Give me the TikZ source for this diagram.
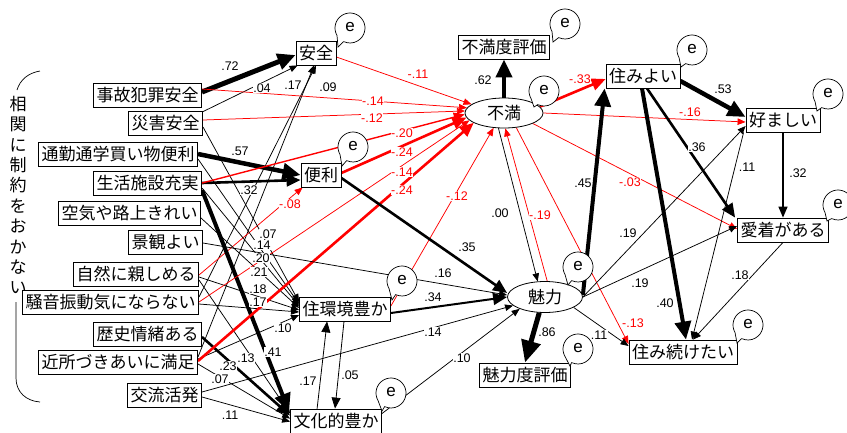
\documentclass[tikz,border=0pt]{standalone}
\usepackage{fontspec}
\setmainfont{Liberation Sans}
\newfontfamily\jpf{Noto Sans CJK JP}
\usetikzlibrary{arrows.meta,shapes.geometric,calc}
\pgfdeclarelayer{bg}
\pgfdeclarelayer{back}
\pgfsetlayers{back,bg,main}
\newcommand{\ebub}[5]{%
  \draw[line width=0.7pt,fill=white] (#2,#3) ++(150:15) arc[start angle=150,end angle=475,radius=15] -- (#4,#5) -- cycle;
  \node[efont] (#1) at (#2,#3-1) {e};}
\begin{document}
\begin{tikzpicture}[x=1pt,y=-1pt,
  box/.style={draw,line width=0.8pt,fill=white,font=\jpf\fontsize{17}{17}\selectfont,inner xsep=3pt,inner ysep=0pt,minimum height=24pt},
  ell/.style={ellipse,draw,line width=0.8pt,fill=white,inner sep=0pt,font=\jpf\fontsize{17}{17}\selectfont},
  efont/.style={font=\fontsize{17}{17}\selectfont,inner sep=0pt},
  lab/.style={font=\fontsize{12.5}{13}\selectfont,fill=white,inner sep=0.6pt},
  rlab/.style={lab,text=red},
  ln/.style={line width=0.75pt,-{Triangle[length=8pt,width=6.5pt]}},
  lnH/.style={line width=0.8pt,-{Triangle[length=11pt,width=9pt]}},
  lnM/.style={line width=1.4pt,-{Triangle[length=11pt,width=9pt]}},
  lnB/.style={line width=2.6pt,-{Triangle[length=14pt,width=12pt]}},
  lnT/.style={line width=4.5pt,-{Triangle[length=18pt,width=16pt]}},
  lnX/.style={line width=5pt,-{Triangle[length=22pt,width=19pt]}}
]
\useasboundingbox (0,0) rectangle (847,432);
\begin{pgfonlayer}{back}
\fill[white] (0,0) rectangle (847,432);
\end{pgfonlayer}

% bracket and vertical text
\node[font=\jpf\fontsize{17}{20.4}\selectfont,align=center,inner sep=0pt] (vt) at (18,195) {相\\関\\に\\制\\約\\を\\お\\か\\な\\い};
\draw[line width=0.7pt] (40,71) .. controls (28,73) and (20,80) .. (17,90);
\draw[line width=0.7pt] (16,302) -- (16,378) .. controls (16,392) and (26,401) .. (40,402);

% left nodes
\node[box,anchor=east] (A1) at (202,95) {事故犯罪安全};
\node[box,anchor=east] (A2) at (203,123) {災害安全};
\node[box,anchor=east] (A3) at (198,154) {通勤通学買い物便利};
\node[box,anchor=east] (A4) at (202,183) {生活施設充実};
\node[box,anchor=east] (A5) at (201,213) {空気や路上きれい};
\node[box,anchor=east] (A6) at (203,242) {景観よい};
\node[box,anchor=east] (A7) at (199,274) {自然に親しめる};
\node[box,anchor=east] (A8) at (199,302) {騒音振動気にならない};
\node[box,anchor=east] (A9) at (202,334) {歴史情緒ある};
\node[box,anchor=east] (A10) at (198,362) {近所づきあいに満足};
\node[box,anchor=east] (A11) at (202,395) {交流活発};

% middle nodes
\node[box] (anzen) at (316,53) {安全};
\node[box] (benri) at (321,175) {便利};
\node[box] (jukan) at (345,309) {住環境豊か};
\node[box] (bunka) at (336,421) {文化的豊か};
\node[ell,minimum width=78pt,minimum height=30pt] (fuman) at (504,113) {不満};
\node[box] (fumanhyoka) at (504,47) {不満度評価};
\node[ell,minimum width=75pt,minimum height=31pt] (miryoku) at (545,297) {魅力};
\node[box] (miryokuhyoka) at (525,375) {魅力度評価};
\node[box] (sumiyoi) at (643,76) {住みよい};
\node[box] (konomashii) at (783,120) {好ましい};
\node[box] (aichaku) at (783,230) {愛着がある};
\node[box] (sumitsuzuke) at (683,352) {住み続けたい};

\begin{pgfonlayer}{bg}
% to anzen
\draw[lnT,line width=5pt] ($(A1.east)+(0,-3)$) -- ($(anzen.west)+(0,2)$);
\draw[ln] ($(A2.north east)+(0,1)$) -- ($(anzen.south west)+(2,0)$);
\draw[ln] ($(A10.east)+(0,-5)$) -- ($(anzen.south)+(-2,0)$);
\draw[ln] ($(A8.east)+(0,-5)$) -- ($(anzen.south)+(0,0)$);
% to benri
\draw[lnT] ($(A3.east)+(0,0)$) -- ($(benri.west)+(0,0)$);
\draw[lnB] ($(A4.east)+(0,0)$) -- ($(benri.west)+(0,5)$);
\draw[ln,red] ($(A7.east)+(0,1)$) -- ($(benri.south west)+(2,0)$);
% to jukan
\draw[ln] ($(A2.east)+(0,4)$) -- ($(jukan.west)+(0,-7)$);
\draw[ln] ($(A3.east)+(0,5)$) -- ($(jukan.west)+(0,-5)$);
\draw[ln] ($(A4.east)+(0,5)$) -- ($(jukan.west)+(0,-3)$);
\draw[ln] ($(A5.east)+(0,5)$) -- ($(jukan.west)+(0,-1)$);
\draw[ln] ($(A7.east)+(0,3)$) -- ($(jukan.west)+(0,1)$);
\draw[ln] ($(A8.east)+(0,2)$) -- ($(jukan.west)+(0,3)$);
\draw[ln] ($(A10.east)+(0,-3)$) -- ($(jukan.west)+(0,6)$);
% to bunka
\draw[lnT,line width=4pt] ($(A4.east)+(0,7)$) -- ($(bunka.north west)+(-1,3)$);
\draw[ln] ($(A7.east)+(0,6)$) -- ($(bunka.north west)+(0,5)$);
\draw[lnB] ($(A9.east)+(0,3)$) -- ($(bunka.north west)+(0,7)$);
\draw[ln] ($(A10.east)+(0,2)$) -- ($(bunka.north west)+(0,10)$);
\draw[ln] ($(A11.east)+(0,2)$) -- ($(bunka.north west)+(0,13)$);
% jukan <-> bunka
\draw[lnH] ($(bunka.north west)+(27,0)$) -- ($(jukan.south west)+(28,0)$);
\draw[lnH] ($(jukan.south)+(-1,0)$) -- ($(bunka.north)+(-1,0)$);
% red to fuman
\draw[ln,red] ($(anzen.east)+(0,4)$) -- (fuman.165);
\draw[ln,red] ($(A1.east)+(0,-6)$) -- (fuman.172);
\draw[ln,red] ($(A2.east)+(0,-3)$) -- (fuman.177);
\draw[lnM,red] ($(A4.east)+(0,0)$) -- (fuman.182);
\draw[lnB,red] ($(benri.east)+(0,-2)$) -- (fuman.187);
\draw[ln,red] ($(A8.east)+(0,0)$) -- (fuman.192);
\draw[lnB,red] ($(A10.east)+(0,-1)$) -- (fuman.198);
\draw[ln,red] ($(jukan.east)+(0,-3)$) -- (fuman.235);
% to miryoku
\draw[lnB] ($(benri.east)+(0,3)$) -- ($(miryoku.west)+(0,-4)$);
\draw[ln] ($(A6.east)+(0,1)$) -- ($(miryoku.west)+(0,-2)$);
\draw[lnB,line width=2pt] ($(jukan.east)+(0,4)$) -- ($(miryoku.west)+(0,0)$);
\draw[ln] ($(A11.east)+(0,-3)$) -- (miryoku.195);
\draw[ln] ($(bunka.north east)+(0,5)$) -- (miryoku.205);
% fuman / miryoku
\draw[lnT,line width=4pt] (fuman.north) -- (fumanhyoka.south);
\draw[lnX] (miryoku.250) -- (miryokuhyoka.north);
\draw[ln] (fuman.250) -- (miryoku.115);
\draw[ln,red] (miryoku.82) -- (fuman.275);
% from fuman (red)
\draw[lnB,red] (fuman.10) -- ($(sumiyoi.west)+(0,3)$);
\draw[ln,red] (fuman.east) -- ($(konomashii.west)+(0,2)$);
\draw[ln,red] (fuman.340) -- ($(aichaku.west)+(0,-1)$);
\draw[ln,red] (fuman.310) -- ($(sumitsuzuke.west)+(0,-8)$);
% from miryoku
\draw[lnT,line width=4pt] ($(miryoku.east)+(0,-2)$) -- ($(sumiyoi.south west)+(-1,0)$);
\draw[ln] (miryoku.east) -- ($(konomashii.west)+(0,6)$);
\draw[ln] (miryoku.east) -- ($(aichaku.west)+(0,-4)$);
\draw[ln] (miryoku.340) -- ($(sumitsuzuke.west)+(0,-6)$);
% right side
\draw[lnT] ($(sumiyoi.east)+(0,5)$) -- ($(konomashii.west)+(0,-3)$);
\draw[lnB] ($(sumiyoi.south)+(4,0)$) -- ($(aichaku.north west)+(-2,0)$);
\draw[lnT,line width=4pt] ($(sumiyoi.south)+(-1,0)$) -- ($(sumitsuzuke.north)+(3,0)$);
\draw[ln] ($(konomashii.south west)+(-2,0)$) -- ($(sumitsuzuke.north)+(9,0)$);
\draw[lnM] (konomashii.south) -- (aichaku.north);
\draw[ln] (aichaku.south) -- ($(sumitsuzuke.north)+(10,0)$);
\end{pgfonlayer}

% labels
\node[lab] (l1) at (230,66) {.72};
\node[lab] (l2) at (262,88) {.04};
\node[lab] (l3) at (293,85) {.17};
\node[lab] (l4) at (328,87) {.09};
\node[lab] (l5) at (240,151) {.57};
\node[lab] (l6) at (249,190) {.32};
\node[rlab] (l7) at (290,204) {-.08};
\node[lab] (l8) at (268,234) {.07};
\node[lab] (l9) at (262,245) {.14};
\node[lab] (l10) at (261,258) {.20};
\node[lab] (l11) at (259,272) {.21};
\node[lab] (l12) at (258,289) {.18};
\node[lab] (l13) at (258,302) {.17};
\node[lab] (l14) at (283,328) {.10};
\node[lab] (l15) at (273,352) {.41};
\node[lab] (l16) at (246,358) {.13};
\node[lab] (l17) at (228,366) {.23};
\node[lab] (l18) at (220,379) {.07};
\node[lab] (l19) at (230,415) {.11};
\node[lab] (l20) at (308,381) {.17};
\node[lab] (l21) at (350,375) {.05};
\node[rlab] (l22) at (418,74) {-.11};
\node[rlab] (l23) at (373,101) {-.14};
\node[rlab] (l24) at (372,118) {-.12};
\node[rlab] (l25) at (402,133) {-.20};
\node[rlab] (l26) at (402,152) {-.24};
\node[rlab] (l27) at (402,172) {-.14};
\node[rlab] (l28) at (402,190) {-.24};
\node[rlab] (l29) at (457,196) {-.12};
\node[lab] (l30) at (467,247) {.35};
\node[lab] (l31) at (443,273) {.16};
\node[lab] (l32) at (433,297) {.34};
\node[lab] (l33) at (433,332) {.14};
\node[lab] (l34) at (462,358) {.10};
\node[lab] (l35) at (483,80) {.62};
\node[lab] (l36) at (500,213) {.00};
\node[rlab] (l37) at (540,215) {-.19};
\node[lab] (l38) at (547,332) {.86};
\node[rlab] (l39) at (580,79) {-.33};
\node[rlab] (l40) at (690,112) {-.16};
\node[rlab] (l41) at (630,182) {-.03};
\node[rlab] (l42) at (633,323) {-.13};
\node[lab] (l43) at (583,183) {.45};
\node[lab] (l44) at (628,233) {.19};
\node[lab] (l45) at (640,283) {.19};
\node[lab] (l46) at (599,335) {.11};
\node[lab] (l47) at (723,89) {.53};
\node[lab] (l48) at (697,147) {.36};
\node[lab] (l49) at (747,167) {.11};
\node[lab] (l50) at (798,173) {.32};
\node[lab] (l51) at (665,303) {.40};
\node[lab] (l52) at (740,275) {.18};

% error bubbles
\ebub{e1}{350}{28}{338}{47}
\ebub{e2}{565}{24}{553}{42}
\ebub{e3}{544}{91}{534}{107}
\ebub{e4}{692}{50}{681}{67}
\ebub{e5}{828}{94}{817}{111}
\ebub{e6}{838}{205}{827}{221}
\ebub{e7}{748}{325}{737}{343}
\ebub{e8}{578}{267}{568}{285}
\ebub{e9}{578}{349}{570}{366}
\ebub{e10}{353}{147}{342}{166}
\ebub{e11}{402}{281}{392}{300}
\ebub{e12}{391}{393}{382}{411}
\end{tikzpicture}
\end{document}
